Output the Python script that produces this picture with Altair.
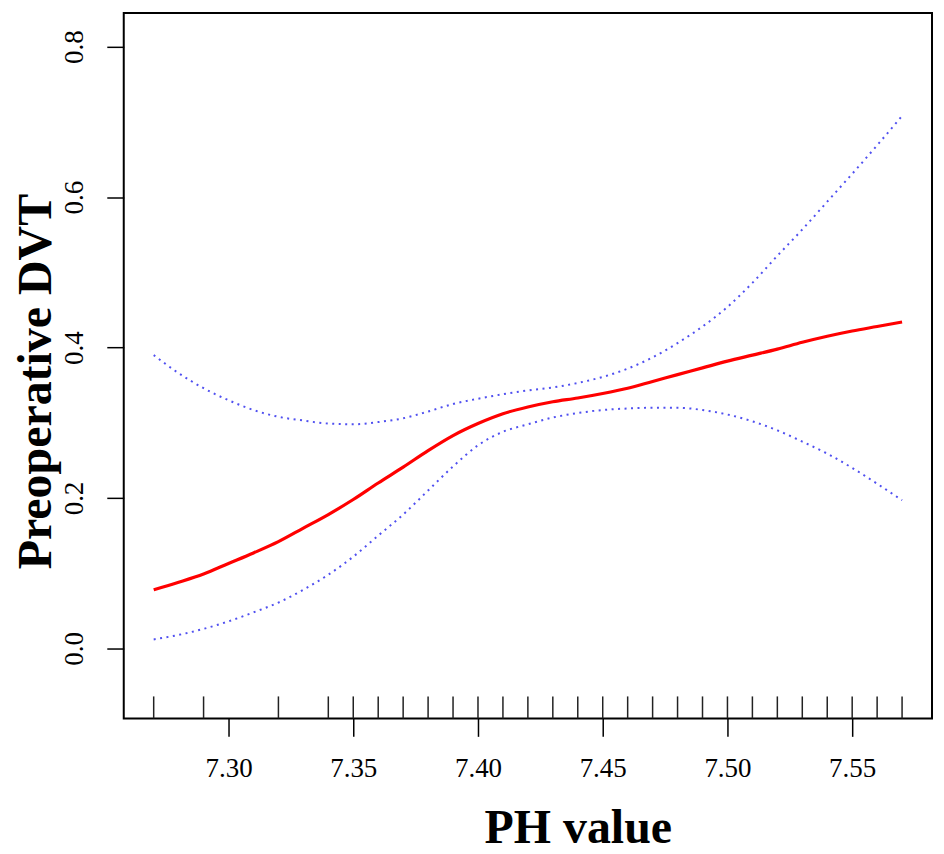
import altair as alt
import pandas as pd

# PH grid
ph = [7.27, 7.28, 7.29, 7.30, 7.31, 7.32, 7.33, 7.34, 7.35, 7.36, 7.37,
      7.38, 7.39, 7.40, 7.41, 7.42, 7.43, 7.44, 7.45, 7.46, 7.47, 7.48,
      7.49, 7.50, 7.51, 7.52, 7.53, 7.54, 7.55, 7.56, 7.57]
fit = [0.078, 0.088, 0.099, 0.113, 0.127, 0.142, 0.160, 0.178, 0.198, 0.220,
       0.241, 0.263, 0.283, 0.299, 0.312, 0.321, 0.328, 0.333, 0.339, 0.346,
       0.355, 0.364, 0.373, 0.382, 0.390, 0.398, 0.407, 0.415, 0.422, 0.428,
       0.434]
upper = [0.390, 0.366, 0.346, 0.330, 0.317, 0.308, 0.303, 0.299, 0.298, 0.301,
         0.306, 0.315, 0.325, 0.332, 0.338, 0.343, 0.347, 0.353, 0.361, 0.372,
         0.387, 0.406, 0.428, 0.454, 0.486, 0.522, 0.557, 0.594, 0.631, 0.669,
         0.708]
lower = [0.012, 0.018, 0.026, 0.036, 0.048, 0.061, 0.078, 0.098, 0.122, 0.150,
         0.178, 0.210, 0.242, 0.270, 0.288, 0.298, 0.307, 0.313, 0.317, 0.319,
         0.320, 0.320, 0.317, 0.311, 0.302, 0.290, 0.275, 0.259, 0.240, 0.219,
         0.197]
rug = [7.27, 7.29, 7.32, 7.34, 7.35, 7.36, 7.37, 7.38, 7.39, 7.40, 7.41,
       7.42, 7.43, 7.44, 7.45, 7.46, 7.47, 7.48, 7.49, 7.50, 7.51, 7.52,
       7.53, 7.54, 7.55, 7.56, 7.57]
x_ticks = [7.30, 7.35, 7.40, 7.45, 7.50, 7.55]
y_ticks = [0.0, 0.2, 0.4, 0.6, 0.8]

W, H = 810, 707

df = pd.DataFrame({"ph": ph, "fit": fit, "upper": upper, "lower": lower})
rug_df = pd.DataFrame({"ph": rug})

xscale = alt.Scale(domain=[7.258, 7.582], nice=False, zero=False)
yscale = alt.Scale(domain=[-0.093, 0.845], nice=False, zero=False)

xaxis = alt.Axis(
    values=x_ticks, format=".2f", title="PH value", grid=False, domain=False,
    tickSize=18, tickWidth=1.5, tickColor="black",
    labelFont="Liberation Serif", labelFontSize=27, labelColor="black",
    labelPadding=19, labelBaseline="top",
    titleFont="Liberation Serif", titleFontWeight="bold", titleFontSize=48,
    titleColor="black", titleX=455, titleY=124, titleAlign="center",
    titleBaseline="alphabetic",
)
yaxis = alt.Axis(
    values=y_ticks, format=".1f", title="Preoperative DVT", grid=False,
    domain=False, tickSize=17, tickWidth=1.5, tickColor="black",
    labelFont="Liberation Serif", labelFontSize=27, labelColor="black",
    labelAngle=-90, labelAlign="center", labelBaseline="alphabetic",
    labelPadding=24,
    titleFont="Liberation Serif", titleFontWeight="bold", titleFontSize=48,
    titleColor="black", titleAngle=-90, titleX=-73, titleY=369,
    titleAlign="center", titleBaseline="alphabetic",
)

base = alt.Chart(df)

fit_line = base.mark_line(color="#FF0000", strokeWidth=3.2,
                          interpolate="monotone").encode(
    x=alt.X("ph:Q", scale=xscale, axis=xaxis),
    y=alt.Y("fit:Q", scale=yscale, axis=yaxis),
)
up_line = base.mark_line(color="#5050F0", strokeWidth=2, strokeDash=[2, 4.5],
                         interpolate="monotone").encode(
    x=alt.X("ph:Q", scale=xscale),
    y=alt.Y("upper:Q", scale=yscale),
)
lo_line = base.mark_line(color="#5050F0", strokeWidth=2, strokeDash=[2, 4.5],
                         interpolate="monotone").encode(
    x=alt.X("ph:Q", scale=xscale),
    y=alt.Y("lower:Q", scale=yscale),
)
rug_marks = alt.Chart(rug_df).mark_rule(color="#222222", strokeWidth=1.5).encode(
    x=alt.X("ph:Q", scale=xscale),
    y=alt.value(H - 22),
    y2=alt.value(H),
)

chart = alt.layer(rug_marks, up_line, lo_line, fit_line).properties(
    width=W, height=H,
    autosize=alt.AutoSizeParams(type="none"),
    padding={"left": 116, "top": 4, "right": 4, "bottom": 134},
    background="white",
).configure_view(stroke="black", strokeWidth=2)

chart.save("out.html", embed_options={"renderer": "svg", "actions": False})
